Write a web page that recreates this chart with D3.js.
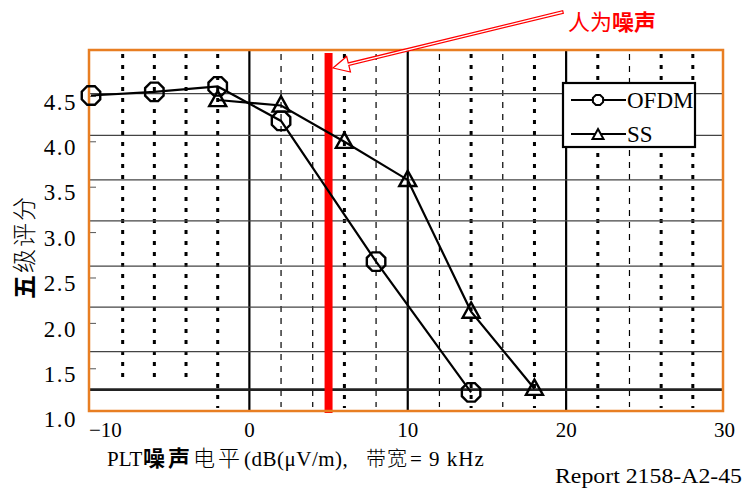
<!DOCTYPE html>
<html>
<head>
<meta charset="utf-8">
<script src="https://cdn.jsdelivr.net/npm/d3@7"></script>
<style>
  html, body { margin: 0; padding: 0; background: #fff; }
  svg { display: block; }
  .serif { font-family: "Liberation Serif", "DejaVu Serif", serif; }
  .cjk { font-family: "Noto Sans CJK SC", sans-serif; }
</style>
</head>
<body>
<svg id="chart" width="745" height="494"></svg>
<script>
// ---- data ----
const ofdmX = [-10, -6, -2, 2, 8, 14];
const ofdmY = [4.51, 4.55, 4.61, 4.23, 2.68, 1.24];
const ssX = [-2, 2, 6, 10, 14, 18];
const ssY = [4.46, 4.40, 4.00, 3.58, 2.13, 1.28];
const xTicks = [-10, 0, 10, 20, 30];
const yTicks = [1.0, 1.5, 2.0, 2.5, 3.0, 3.5, 4.0, 4.5];
const hGrid = [4.53, 4.07, 3.58, 3.13, 2.63, 2.18, 1.69, 1.27];
const vSolid = [0, 10, 20];
const vDotted = [-8, -6, -4, -2, 6, 14, 18, 22, 26, 28];
const vDashed = [2, 4, 8, 12, 16, 24];
const noiseLevel = 5;
const seriesNames = ["OFDM", "SS"];

const svg = d3.select("#chart");
const x = d3.scaleLinear().domain([-10, 30]).range([91, 724.5]);
const y = d3.scaleLinear().domain([1.035, 5.0]).range([411, 51]);
const L = 89, R = 723, T = 50, B = 411;

// vertical grid
function vlines(vals, width, dash, y2fn) {
  svg.append("g").selectAll("line").data(vals).join("line")
    .attr("x1", d => x(d)).attr("x2", d => x(d))
    .attr("y1", T + 4).attr("y2", d => y2fn ? y2fn(d) : B - 4)
    .attr("stroke", "#000").attr("stroke-width", width)
    .attr("stroke-dasharray", dash);
}
vlines(vDotted, 3, "4,7", d => (d < -2 ? 384 : B - 3));
vlines(vDashed, 1.2, "6,6");
svg.append("g").selectAll("line").data(vSolid).join("line")
  .attr("x1", d => x(d)).attr("x2", d => x(d))
  .attr("y1", T).attr("y2", B)
  .attr("stroke", "#000").attr("stroke-width", 2.2);

// horizontal grid
svg.append("g").selectAll("line").data(hGrid).join("line")
  .attr("x1", L).attr("x2", R)
  .attr("y1", d => y(d)).attr("y2", d => y(d))
  .attr("stroke", (d, i) => i === hGrid.length - 1 ? "#222" : "#444")
  .attr("stroke-width", (d, i) => i === hGrid.length - 1 ? 2.6 : 1.3);

// y tick marks + labels
svg.append("g").selectAll("line").data(yTicks.filter(d => d > 1.2)).join("line")
  .attr("x1", L).attr("x2", L + 7)
  .attr("y1", d => y(d)).attr("y2", d => y(d))
  .attr("stroke", "#555").attr("stroke-width", 1);
svg.append("g").selectAll("text").data(yTicks).join("text")
  .attr("class", "serif")
  .attr("x", 77).attr("y", d => y(d) + 8)
  .attr("text-anchor", "end").attr("dominant-baseline", "middle")
  .attr("font-size", 23).attr("letter-spacing", 1.5)
  .text(d => d.toFixed(1));

// x labels
svg.append("g").selectAll("text").data(xTicks).join("text")
  .attr("class", "serif")
  .attr("x", (d, i) => i === 0 ? L : x(d))
  .attr("y", 437)
  .attr("text-anchor", (d, i) => i === 0 ? "start" : "middle")
  .attr("font-size", 21)
  .text(d => d < 0 ? "\u2212" + Math.abs(d) : d);

// red noise line
svg.append("line")
  .attr("x1", x(noiseLevel)).attr("x2", x(noiseLevel))
  .attr("y1", 53).attr("y2", 413)
  .attr("stroke", "#ff0000").attr("stroke-width", 8);

// plot border (orange)
svg.append("rect").attr("x", L).attr("y", T).attr("width", R - L).attr("height", B - T)
  .attr("fill", "none").attr("stroke", "#e87e22").attr("stroke-width", 2.5);

// series lines
const line = d3.line().x(d => x(d[0])).y(d => y(d[1]));
const ofdm = ofdmX.map((v, i) => [v, ofdmY[i]]);
const ss = ssX.map((v, i) => [v, ssY[i]]);
svg.append("path").datum(ofdm).attr("d", line).attr("fill", "none").attr("stroke", "#000").attr("stroke-width", 2.2);
svg.append("path").datum(ss).attr("d", line).attr("fill", "none").attr("stroke", "#000").attr("stroke-width", 2.2);

// markers
function octagon(cx, cy, r) {
  const pts = [];
  for (let k = 0; k < 8; k++) {
    const a = Math.PI / 8 + k * Math.PI / 4;
    pts.push([cx + r * Math.cos(a), cy + r * Math.sin(a)]);
  }
  return "M" + pts.map(p => p.join(",")).join("L") + "Z";
}
function triangle(cx, cy, s) {
  const h = s * 0.9;
  return `M${cx},${cy - h * 0.6}L${cx + s / 2},${cy + h * 0.4}L${cx - s / 2},${cy + h * 0.4}Z`;
}
svg.append("g").selectAll("path").data(ofdm).join("path")
  .attr("d", d => octagon(x(d[0]), y(d[1]), 10))
  .attr("fill", "none").attr("stroke", "#000").attr("stroke-width", 2.4);
svg.append("g").selectAll("path").data(ss).join("path")
  .attr("d", d => triangle(x(d[0]), y(d[1]), 17))
  .attr("fill", "none").attr("stroke", "#000").attr("stroke-width", 2.4);

// legend
const lg = svg.append("g");
lg.append("rect").attr("x", 563).attr("y", 83).attr("width", 132).attr("height", 64)
  .attr("fill", "#fff").attr("stroke", "#000").attr("stroke-width", 2.2);
const legRows = [100, 134];
seriesNames.forEach((name, i) => {
  const ly = legRows[i];
  lg.append("line").attr("x1", 571).attr("x2", 626).attr("y1", ly).attr("y2", ly)
    .attr("stroke", "#000").attr("stroke-width", 2.2);
  if (i === 0) {
    lg.append("path").attr("d", octagon(598, ly, 5.5)).attr("fill", "#fff").attr("stroke", "#000").attr("stroke-width", 2);
  } else {
    lg.append("path").attr("d", triangle(598, ly + 1, 11)).attr("fill", "#fff").attr("stroke", "#000").attr("stroke-width", 2);
  }
  lg.append("text").attr("class", "serif").attr("x", 627).attr("y", ly + 8)
    .attr("font-size", 23).text(name);
});

// annotation arrow (hollow)
(function () {
  const tip = [333, 68], tail = [563, 12];
  const dx = tail[0] - tip[0], dy = tail[1] - tip[1];
  const len = Math.hypot(dx, dy);
  const ux = dx / len, uy = dy / len, px = -uy, py = ux;
  const headL = 16, headW = 8, shaftW = 1.3;
  const hb = [tip[0] + ux * headL, tip[1] + uy * headL];
  const pts = [
    tip,
    [hb[0] + px * headW, hb[1] + py * headW],
    [hb[0] + px * shaftW, hb[1] + py * shaftW],
    [tail[0] + px * shaftW, tail[1] + py * shaftW],
    [tail[0] - px * shaftW, tail[1] - py * shaftW],
    [hb[0] - px * shaftW, hb[1] - py * shaftW],
    [hb[0] - px * headW, hb[1] - py * headW]
  ];
  svg.append("path").attr("d", "M" + pts.map(p => p.join(",")).join("L") + "Z")
    .attr("fill", "#fff").attr("stroke", "#ff0000").attr("stroke-width", 1.2);
})();
const ann = svg.append("text").attr("class", "cjk").attr("x", 568).attr("y", 30)
  .attr("font-size", 22).attr("fill", "#ff0000");
ann.append("tspan").text("人为");
ann.append("tspan").attr("font-weight", "bold").text("噪声");

// axis titles
const xt = svg.append("text").attr("y", 466);
xt.append("tspan").attr("class", "serif").attr("x", 107).attr("font-size", 21).text("PLT");
xt.append("tspan").attr("class", "cjk").attr("x", 143).attr("font-weight", "bold").attr("font-size", 22).attr("letter-spacing", 3).text("噪声");
xt.append("tspan").attr("class", "cjk").attr("font-size", 22).attr("font-weight", 300).attr("letter-spacing", 3).text("电平");
xt.append("tspan").attr("class", "serif").attr("x", 244).attr("font-size", 21).attr("letter-spacing", 0.5).text("(dB(μV/m),");
xt.append("tspan").attr("class", "cjk").attr("x", 366).attr("font-size", 20).attr("font-weight", 300).attr("letter-spacing", 1).text("带宽");
xt.append("tspan").attr("class", "serif").attr("x", 410).attr("font-size", 21).attr("letter-spacing", 1).text("= 9 kHz");

const yt = svg.append("text").attr("transform", "translate(33,247) rotate(-90)")
  .attr("text-anchor", "middle").attr("font-size", 24).attr("letter-spacing", 2).attr("class", "cjk");
yt.append("tspan").attr("font-weight", "bold").text("五");
yt.append("tspan").attr("font-weight", 300).text("级评分");

svg.append("text").attr("class", "serif").attr("x", 555).attr("y", 483)
  .attr("font-size", 22).attr("textLength", 187).attr("lengthAdjust", "spacingAndGlyphs").text("Report 2158-A2-45");
</script>
</body>
</html>
